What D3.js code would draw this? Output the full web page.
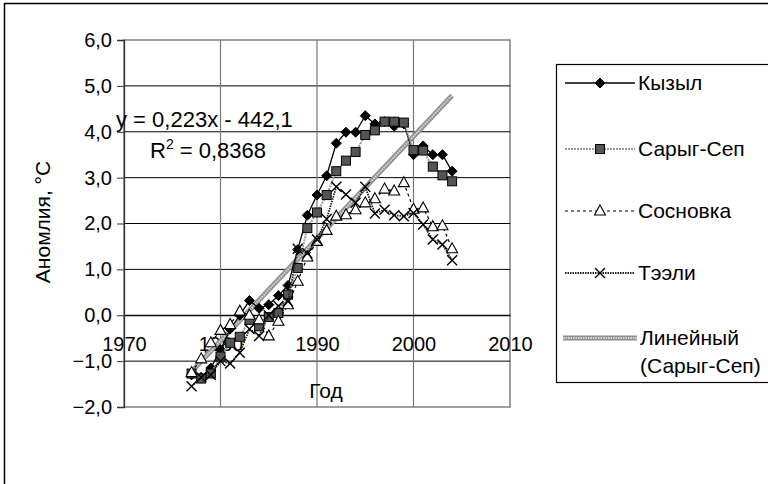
<!DOCTYPE html>
<html><head><meta charset="utf-8">
<script src="https://cdn.jsdelivr.net/npm/d3@7"></script>
<style>html,body{margin:0;padding:0;background:#fff;}svg{display:block;}</style>
</head><body>
<svg id="chart" width="768" height="484"></svg>
<script>
const years = d3.range(1977, 2005);
const kyzyl = [-1.30,-1.35,-1.15,-0.75,-0.30,0.00,0.32,0.15,0.23,0.43,0.65,1.43,2.18,2.62,3.04,3.75,3.99,3.99,4.35,4.17,4.22,4.12,4.17,3.50,3.69,3.50,3.50,3.14];
const sarygSep = [-1.27,-1.38,-1.27,-0.90,-0.60,-0.47,-0.10,-0.24,-0.04,0.05,0.45,1.03,1.90,2.24,2.62,3.14,3.37,3.56,3.93,4.03,4.22,4.22,4.20,3.60,3.59,3.24,3.05,2.92];
const sosnovka = [-1.25,-0.95,-0.60,-0.33,-0.20,0.09,0.00,-0.10,-0.45,-0.13,0.23,0.74,1.27,1.61,1.85,2.16,2.19,2.30,2.45,2.54,2.75,2.71,2.89,2.31,2.34,1.93,1.95,1.45];
const teeli = [-1.55,-1.35,-1.30,-1.00,-1.05,-0.82,-0.30,-0.45,0.00,0.20,0.30,1.45,1.35,1.65,2.10,2.80,2.63,2.45,2.80,2.22,2.30,2.18,2.16,2.23,1.98,1.65,1.54,1.20];
const trendSlope = 0.223, trendIntercept = -442.1;
const xTicks = [1970, 1980, 1990, 2000, 2010];
const yTicks = [-2, -1, 0, 1, 2, 3, 4, 5, 6];
const seriesNames = ["Кызыл", "Сарыг-Сеп", "Сосновка", "Тээли"];
const trendName = ["Линейный", "(Сарыг-Сеп)"];

const svg = d3.select("#chart");
const FONT = "Arial, 'Liberation Sans', sans-serif";
const L = 124, R = 510, T = 40, B = 407;
const x = d3.scaleLinear().domain([1970, 2010]).range([L, R]);
const y = d3.scaleLinear().domain([-2, 6]).range([B, T]);

// outer border
svg.append("rect").attr("x", 4.5).attr("y", 3.5).attr("width", 780).attr("height", 500)
  .attr("fill", "none").attr("stroke", "#000").attr("stroke-width", 1.5);

// plot area border
svg.append("rect").attr("x", L).attr("y", T).attr("width", R - L).attr("height", B - T)
  .attr("fill", "none").attr("stroke", "#808080").attr("stroke-width", 1.5);

// grid
svg.append("g").selectAll("line").data(yTicks.filter(v => v > -2 && v < 6)).join("line")
  .attr("x1", L).attr("x2", R).attr("y1", d => y(d)).attr("y2", d => y(d))
  .attr("stroke", "#000").attr("stroke-width", 1);
svg.append("g").selectAll("line").data(xTicks.filter(v => v > 1970 && v < 2010)).join("line")
  .attr("x1", d => x(d)).attr("x2", d => x(d)).attr("y1", T).attr("y2", B)
  .attr("stroke", "#777").attr("stroke-width", 1.2);

// x axis at 0 (labels drawn low, as in the reference)
const xAxis = d3.axisBottom(x).tickValues(xTicks).tickSize(0).tickPadding(22).tickFormat(d3.format("d"));
const gx = svg.append("g").attr("transform", `translate(0,${y(0)})`).call(xAxis);
gx.select(".domain").attr("stroke", "#000").attr("stroke-width", 1);
gx.selectAll("text").attr("font-family", FONT).attr("font-size", 20).attr("fill", "#000");

// y axis
const yAxis = d3.axisLeft(y).tickValues(yTicks).tickSize(7).tickPadding(5)
  .tickFormat(d => d3.format(".1f")(d).replace(".", ","));
const gy = svg.append("g").attr("transform", `translate(${L},0)`).call(yAxis);
gy.select(".domain").attr("stroke", "#333").attr("stroke-width", 1.3);
gy.selectAll(".tick line").attr("stroke", "#333");
gy.selectAll("text").attr("font-family", FONT).attr("font-size", 20).attr("fill", "#000");

// trend line
const trendYears = [years[0], years[years.length - 1]];
const trendLine = d3.line().x(d => x(d)).y(d => y(trendSlope * d + trendIntercept));
svg.append("path").datum(trendYears).attr("d", trendLine).attr("fill", "none")
  .attr("stroke", "#8f8f8f").attr("stroke-width", 5);
svg.append("path").datum(trendYears).attr("d", trendLine).attr("fill", "none")
  .attr("stroke", "#d8d8d8").attr("stroke-width", 2).attr("stroke-dasharray", "1.5,1");

const data = [kyzyl, sarygSep, sosnovka, teeli];
const lineStyles = [
  {stroke: "#000", width: 1.3, dash: null},
  {stroke: "#9a9a9a", width: 2, dash: "2,1"},
  {stroke: "#000", width: 1.2, dash: "3,3"},
  {stroke: "#222", width: 1.8, dash: "1.5,1"}
];
function drawMarker(g, type, cx, cy) {
  if (type === 0) {
    g.append("path").attr("d", `M${cx},${cy-5}L${cx+5},${cy}L${cx},${cy+5}L${cx-5},${cy}Z`).attr("fill", "#000").attr("stroke", "#000");
  } else if (type === 1) {
    g.append("rect").attr("x", cx - 4.5).attr("y", cy - 4.5).attr("width", 9).attr("height", 9)
      .attr("fill", "#555").attr("stroke", "#000").attr("stroke-width", 1);
  } else if (type === 2) {
    g.append("path").attr("d", `M${cx},${cy-6}L${cx+5.5},${cy+4}L${cx-5.5},${cy+4}Z`)
      .attr("fill", "#fff").attr("stroke", "#000").attr("stroke-width", 1.1);
  } else {
    g.append("path").attr("d", `M${cx-5},${cy-5}L${cx+5},${cy+5}M${cx+5},${cy-5}L${cx-5},${cy+5}`)
      .attr("stroke", "#000").attr("stroke-width", 1.4);
  }
}
const line = d3.line().x((d, i) => x(years[i])).y(d => y(d));
data.forEach((vals, s) => {
  const st = lineStyles[s];
  const g = svg.append("g");
  g.append("path").datum(vals).attr("d", line).attr("fill", "none")
    .attr("stroke", st.stroke).attr("stroke-width", st.width).attr("stroke-dasharray", st.dash);
  vals.forEach((v, i) => drawMarker(g, s, x(years[i]), y(v)));
});

// equation
svg.append("text").attr("x", 116).attr("y", 127).attr("font-family", FONT).attr("font-size", 22)
  .text(`y = ${String(trendSlope).replace(".", ",")}x - ${String(-trendIntercept).replace(".", ",")}`);
const r2 = svg.append("text").attr("x", 150).attr("y", 158).attr("font-family", FONT).attr("font-size", 22);
r2.append("tspan").text("R");
r2.append("tspan").attr("dy", -9).attr("font-size", 14).text("2");
r2.append("tspan").attr("dy", 9).text(" = 0,8368");

// axis titles
svg.append("text").attr("transform", "translate(50,222) rotate(-90)").attr("text-anchor", "middle")
  .attr("font-family", FONT).attr("font-size", 21).text("Аномлия, °С");
svg.append("text").attr("x", 326).attr("y", 398).attr("text-anchor", "middle")
  .attr("font-family", FONT).attr("font-size", 21).text("Год");

// legend
svg.append("rect").attr("x", 556.5).attr("y", 64.5).attr("width", 240).attr("height", 318)
  .attr("fill", "#fff").attr("stroke", "#000").attr("stroke-width", 1.2);
const legY = [83, 149, 211, 273];
seriesNames.forEach((name, s) => {
  const st = lineStyles[s];
  const g = svg.append("g");
  g.append("line").attr("x1", 565).attr("x2", 635).attr("y1", legY[s]).attr("y2", legY[s])
    .attr("stroke", st.stroke).attr("stroke-width", st.width).attr("stroke-dasharray", st.dash);
  drawMarker(g, s, 600, legY[s]);
  g.append("text").attr("x", 638).attr("y", legY[s] + 7).attr("font-family", FONT).attr("font-size", 21).text(name);
});
svg.append("line").attr("x1", 563).attr("x2", 637).attr("y1", 338).attr("y2", 338)
  .attr("stroke", "#8f8f8f").attr("stroke-width", 5);
svg.append("line").attr("x1", 563).attr("x2", 637).attr("y1", 338).attr("y2", 338)
  .attr("stroke", "#d8d8d8").attr("stroke-width", 2).attr("stroke-dasharray", "1.5,1");
svg.append("text").attr("x", 640).attr("y", 345).attr("font-family", FONT).attr("font-size", 21).text(trendName[0]);
svg.append("text").attr("x", 640).attr("y", 373).attr("font-family", FONT).attr("font-size", 21).text(trendName[1]);
</script>
</body></html>
